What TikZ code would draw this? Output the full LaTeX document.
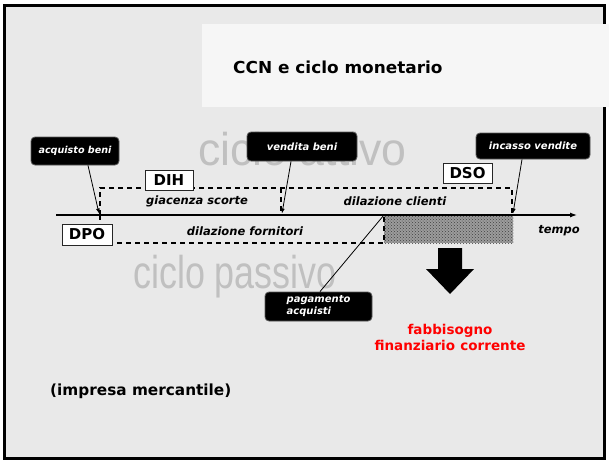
\documentclass[tikz,border=0pt]{standalone}
\usepackage{fontspec}
\setmainfont{DejaVu Sans}
\newfontfamily\wmfont{Liberation Sans}
\usetikzlibrary{patterns,arrows.meta,calc}
\definecolor{bgc}{HTML}{E9E9E9}
\definecolor{titlec}{HTML}{F6F6F6}
\definecolor{wmc}{HTML}{C0C0C0}
\definecolor{shadec}{HTML}{9C9C9C}
\tikzset{
  callout/.style={fill=black, draw=black!65, line width=0.8, rounded corners=4,
    text=white, font=\fontsize{10}{12}\selectfont\bfseries\itshape, inner sep=0,
    align=left},
  tag/.style={fill=white, draw=black!85, line width=0.6,
    font=\fontsize{15}{18}\selectfont\bfseries, inner sep=0},
  period/.style={font=\fontsize{11.5}{14}\selectfont\bfseries\itshape, inner sep=0},
  dashline/.style={dash pattern=on 5pt off 4pt, line width=1.2},
  pointer/.style={-{Latex[length=5,width=4]}, line width=0.8},
  wm/.style={text=wmc, font=\wmfont\fontsize{46}{50}\selectfont, inner sep=0},
  bigtext/.style={font=\fontsize{15.3}{18}\selectfont\bfseries, inner sep=0}
}
\begin{document}
\begin{tikzpicture}[x=1pt,y=-1pt]
\useasboundingbox (0,0) rectangle (609,461);
\fill[white] (0,0) rectangle (609,461);
\filldraw[fill=bgc, draw=black, line width=3] (4.5,5.5) rectangle (604.5,458.5);
% title band
\fill[titlec] (202,24) rectangle (609,107);
\node[anchor=base west, font=\fontsize{16.5}{19}\selectfont\bfseries, inner sep=0] (title) at (233,73) {\scalebox{1.025}[1]{CCN e ciclo monetario}};
% watermarks
\node[wm, anchor=base west] (wma) at (198,165) {\scalebox{0.97}[1]{ciclo attivo}};
\node[wm, anchor=base west] (wmp) at (133,288) {\scalebox{0.78}[1]{ciclo passivo}};
% shaded gap
\node[fill=shadec, minimum width=129, minimum height=28, inner sep=0, anchor=north west] (gap) at (384,215) {};
\fill[pattern=crosshatch dots, pattern color=black!75] (gap.north west) rectangle (gap.south east);
% dashed periods
\draw[dashline] (100,215) -- (100,188) -- (512,188) -- (512,215);
\draw[dashline] (281,188) -- (281,215);
\draw[dashline] (100,215) -- (100,243) -- (384,243) -- (384,215);
% time axis
\coordinate (axs) at (56,215);
\coordinate (axe) at (577,215);
\draw[line width=1.2, -{Latex[length=7,width=5]}] (axs) -- (axe);
% period labels
\node[period] (gs) at (197,201) {giacenza scorte};
\node[period] (dc) at (395,201) {dilazione clienti};
\node[period] (df) at (245,231) {dilazione fornitori};
\node[period] (tp) at (559,231) {tempo};
% tags
\node[tag, minimum width=48, minimum height=20] (dih) at (169,180.5) {DIH};
\node[tag, minimum width=49, minimum height=20] (dso) at (467.5,173) {DSO};
\node[tag, minimum width=50, minimum height=21] (dpo) at (87,234.5) {DPO};
% callouts
\node[callout, minimum width=88, minimum height=28, font=\fontsize{9.6}{11}\selectfont\bfseries\itshape] (acq) at (75,151) {acquisto beni};
\node[callout, minimum width=110, minimum height=29] (ven) at (302,146.5) {vendita beni};
\node[callout, minimum width=114, minimum height=26] (inc) at (533,146) {incasso vendite};
\node[callout, minimum width=107, minimum height=29] (pag) at (318.5,306.5) {pagamento\\acquisti};
\coordinate (t1) at (99,213.5);
\coordinate (t2) at (282,213.5);
\coordinate (t3) at (513,213.5);
\draw[pointer] ($(acq.south)+(13,0)$) -- (t1);
\draw[pointer] ($(ven.south)+(-11,0)$) -- (t2);
\draw[pointer] ($(inc.south)+(-11,0)$) -- (t3);
\draw[line width=0.8] ($(pag.north)+(1.5,0)$) -- (gap.north west);
% big arrow
\fill[black] (438,248) -- (462,248) -- (462,269) -- (474,269) -- (450,294) -- (426,269) -- (438,269) -- cycle;
\node[font=\fontsize{13.5}{16}\selectfont\bfseries, text=red, align=center, inner sep=0] (need) at (450,337) {fabbisogno\\finanziario\hspace{0.4em}corrente};
% note
\node[bigtext, anchor=base west] (imp) at (50,395) {(impresa mercantile)};
\end{tikzpicture}
\end{document}
